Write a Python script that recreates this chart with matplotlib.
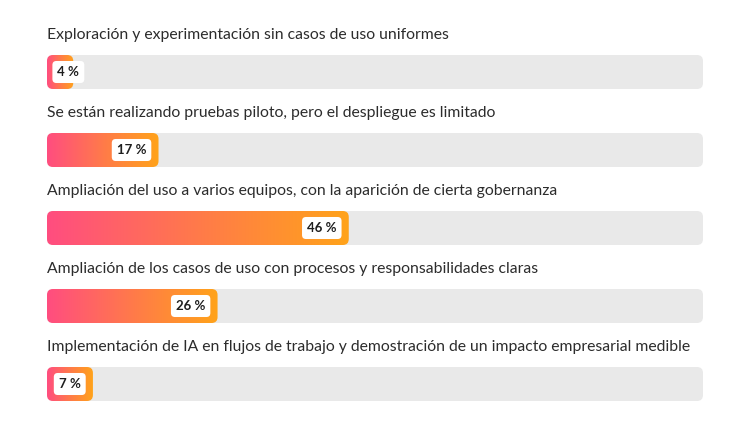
import numpy as np
import matplotlib
matplotlib.use("Agg")
import matplotlib.pyplot as plt
from matplotlib.patches import FancyBboxPatch
from matplotlib.colors import LinearSegmentedColormap

# data
categories = [
    "Exploración y experimentación sin casos de uso uniformes",
    "Se están realizando pruebas piloto, pero el despliegue es limitado",
    "Ampliación del uso a varios equipos, con la aparición de cierta gobernanza",
    "Ampliación de los casos de uso con procesos y responsabilidades claras",
    "Implementación de IA en flujos de trabajo y demostración de un impacto empresarial medible",
]
values = [4, 17, 46, 26, 7]

W, H, DPI = 750, 422, 100
left_px, right_px = 47, 703
first_px, step_px = 72, 78
bar_px = 34
radius_px = 6

fig = plt.figure(figsize=(W / DPI, H / DPI), dpi=DPI)
ax = fig.add_axes([left_px / W, 0, (right_px - left_px) / W, 1])
ax.set_xlim(0, 100)
ax.set_ylim((H - first_px) / step_px, -first_px / step_px)
ax.axis("off")

px_x = 100 / (right_px - left_px)   # data units per pixel in x
px_y = 1 / step_px                   # data units per pixel in y
bh = bar_px * px_y
rs = radius_px * px_x
asp = (radius_px * px_y) / rs

cmap = LinearSegmentedColormap.from_list("grad", ["#ff4d80", "#ff7a4a", "#ffa31a"])
grad = np.linspace(0, 1, 256).reshape(1, -1)

for i, (cat, v) in enumerate(zip(categories, values)):
    # track
    track = FancyBboxPatch((0, i - bh / 2), 100, bh,
                           boxstyle=f"round,pad=0,rounding_size={rs}",
                           mutation_aspect=asp, fc="#e9e9e9", ec="none", zorder=1)
    ax.add_patch(track)
    # gradient bar
    bar = FancyBboxPatch((0, i - bh / 2), v, bh,
                         boxstyle=f"round,pad=0,rounding_size={rs}",
                         mutation_aspect=asp, fc="none", ec="none", zorder=2)
    ax.add_patch(bar)
    im = ax.imshow(grad, cmap=cmap, aspect="auto", zorder=2,
                   extent=(0, v, i + bh / 2, i - bh / 2), interpolation="bicubic")
    im.set_clip_path(bar)

    # category label
    ax.text(0, i - 0.48, cat, ha="left", va="center", fontsize=11.35,
            family="Lato", color="#2c2c2c", zorder=3)

    # value label
    bar_w = v / px_x
    box = dict(boxstyle="round,pad=0.38,rounding_size=0.3", fc="white", ec="none")
    if bar_w > 40:
        ax.annotate(f"{v} %", xy=(v, i), xytext=(-8.8, 0), textcoords="offset points",
                    ha="right", va="center", fontsize=9.5, fontweight="bold",
                    family="Lato", color="#1e1e1e", bbox=box, zorder=4)
    else:
        ax.annotate(f"{v} %", xy=(0, i), xytext=(7.5, 0), textcoords="offset points",
                    ha="left", va="center", fontsize=9.5, fontweight="bold",
                    family="Lato", color="#1e1e1e", bbox=box, zorder=4)

fig.savefig("out.png", dpi=DPI)
